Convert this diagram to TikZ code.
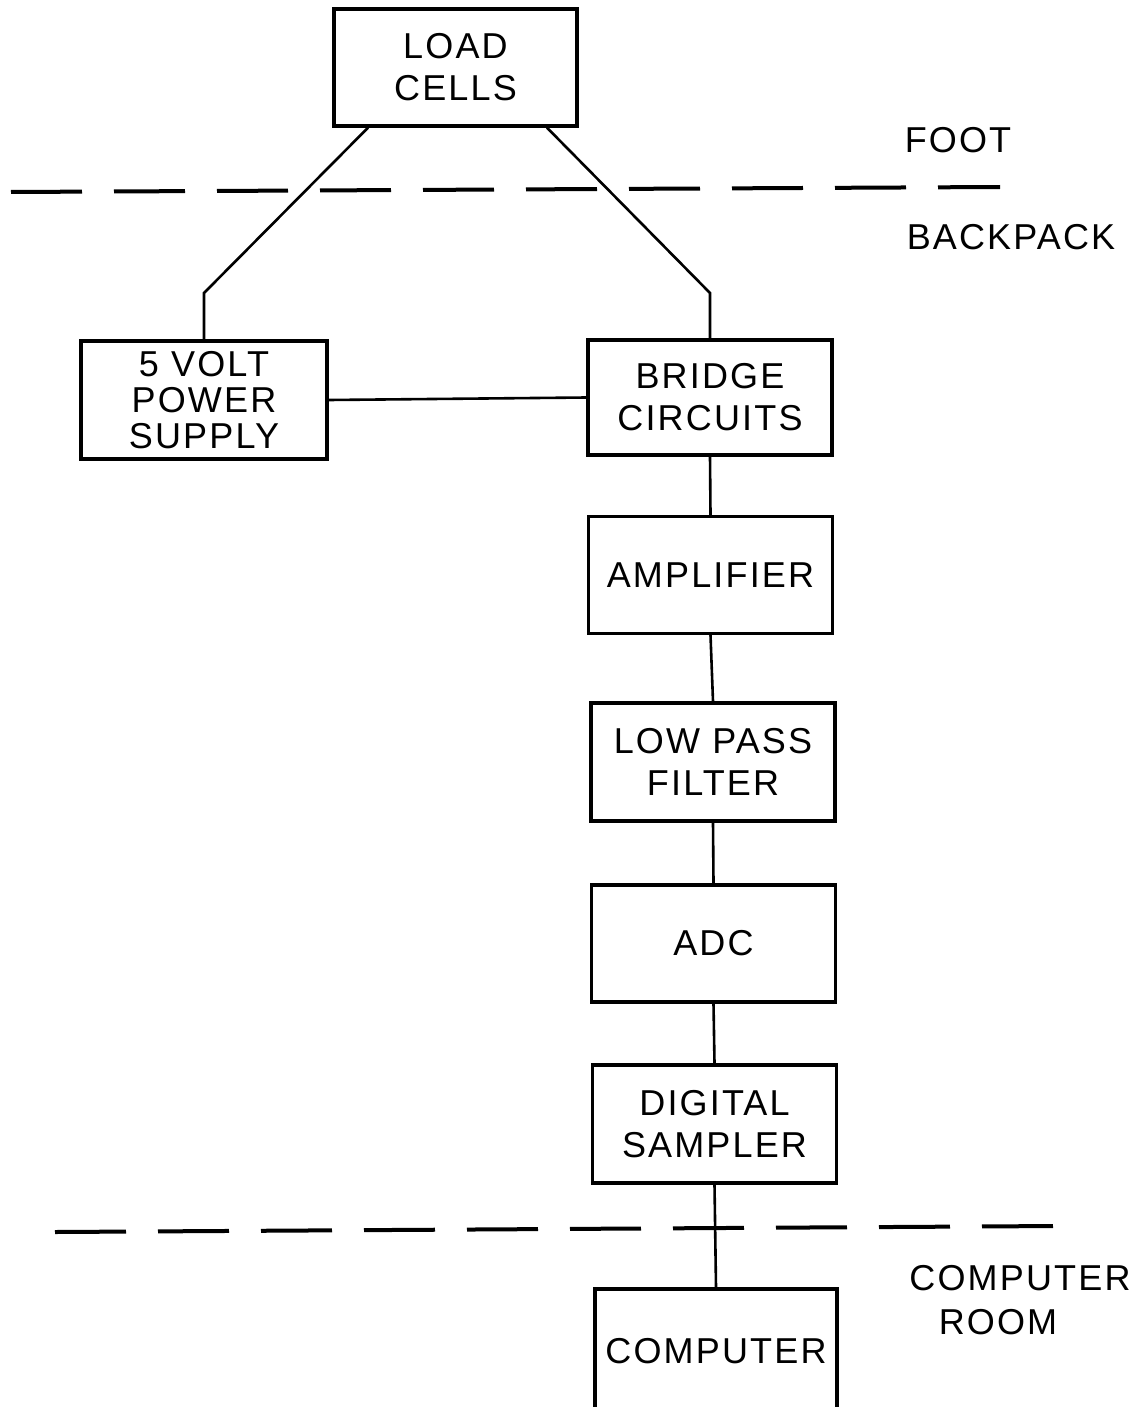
\documentclass[tikz,border=0pt]{standalone}
\usepackage{fontspec}
\setmainfont[LetterSpace=6]{Liberation Sans}
\begin{document}
\begin{tikzpicture}[x=0.5pt,y=-0.5pt,
  every node/.style={font=\fontsize{18}{21}\selectfont},
  blockbox/.style={draw, line width=1.7pt, align=center, inner sep=0pt,
    minimum width=122pt, minimum height=58.5pt},
  wire/.style={line width=1.3pt},
  zoneline/.style={line width=2pt, dash pattern=on 35.5pt off 16pt},
  zonelabel/.style={inner sep=0pt}]
\useasboundingbox (0,0) rectangle (1147,1407);
\fill[white] (0,0) rectangle (1147,1407);
\clip (0,0) rectangle (1147,1407);

% blocks
\node[blockbox, minimum width=121.5pt] (load) at (455.5,67.5) {LOAD\\CELLS};
\node[blockbox, minimum width=123pt, minimum height=59pt,
  font=\fontsize{18}{18}\selectfont] (psu) at (204,400) {5 VOLT\\POWER\\SUPPLY};
\node[blockbox, minimum height=57.5pt] (bridge) at (710,397.5) {BRIDGE\\CIRCUITS};
\node[blockbox] (amp) at (710.5,575) {AMPLIFIER};
\node[blockbox, minimum height=59pt] (lpf) at (713,762) {LOW PASS\\FILTER};
\node[blockbox] (adc) at (713.5,943.5) {ADC};
\node[blockbox, minimum height=59pt] (ds) at (714.5,1124) {DIGITAL\\SAMPLER};
\node[blockbox, minimum width=121pt, minimum height=62pt] (comp) at (716,1351) {COMPUTER};

% zone boundaries
\coordinate (topA) at (11,192);
\coordinate (topB) at (1000,187);
\coordinate (botA) at (55,1232);
\coordinate (botB) at (1058,1226);
\draw[zoneline] (topA) -- (topB);
\draw[zoneline] (botA) -- (botB);

% zone labels
\node[zonelabel] (foot) at (958,140) {FOOT};
\node[zonelabel] (pack) at (1011,237) {BACKPACK};
\node[zonelabel] (room1) at (1020,1278) {COMPUTER};
\node[zonelabel] (room2) at (998,1322) {ROOM};

% wiring
\coordinate (l1) at (368,0);
\coordinate (r1) at (547,0);
\coordinate (bendL) at (204,293);
\coordinate (bendR) at (710,293);
\draw[wire] (l1 |- load.south) -- (bendL) -- (psu.north);
\draw[wire] (r1 |- load.south) -- (bendR) -- (bridge.north);
\draw[wire] (psu.east) -- (bridge.west);
\draw[wire] (bridge.south) -- (amp.north);
\draw[wire] (amp.south) -- (lpf.north);
\draw[wire] (lpf.south) -- (adc.north);
\draw[wire] (adc.south) -- (ds.north);
\draw[wire] (ds.south) -- (comp.north);
\end{tikzpicture}
\end{document}
